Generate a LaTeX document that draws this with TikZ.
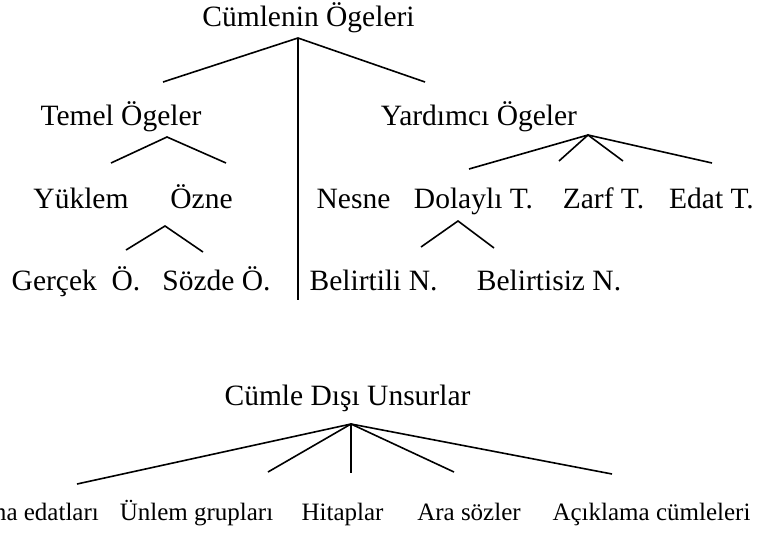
\documentclass[tikz,border=0pt]{standalone}
\usepackage{fontspec}
\setmainfont{Liberation Serif}
\usepackage{tikz}
\usetikzlibrary{positioning}

\begin{document}
\begin{tikzpicture}[
    x=1pt, y=-1pt,
    bigterm/.style={inner sep=0pt, anchor=base, font=\fontsize{29.5}{35}\selectfont},
    smallterm/.style={inner sep=0pt, anchor=base, font=\fontsize{25}{30}\selectfont},
    branch/.style={line width=1.6pt}
]
    \clip (0,0) rectangle (762,533);

    % Top tree: labels
    \node[bigterm] (root) at (308.5,26) {Cümlenin Ögeleri};
    \node[bigterm] (temel) at (121,125) {Temel Ögeler};
    \node[bigterm] (yardimci) at (479,125) {Yardımcı Ögeler};
    \node[bigterm] (yuklem) at (81,208) {Yüklem};
    \node[bigterm] (ozne) at (201.5,208) {Özne};
    \node[bigterm] (gercek) at (76,290) {Gerçek\ \ Ö.};
    \node[bigterm] (sozde) at (216.5,290) {Sözde Ö.};
    \node[bigterm] (nesne) at (353.5,208) {Nesne};
    \node[bigterm] (dolayli) at (473.5,208) {Dolaylı T.};
    \node[bigterm] (zarf) at (603.5,208) {Zarf T.};
    \node[bigterm] (edat) at (711.5,208) {Edat T.};
    \node[bigterm] (belirtili) at (373.5,290) {Belirtili N.};
    \node[bigterm] (belirtisiz) at (549,290) {Belirtisiz N.};

    % Top tree: branch points
    \coordinate (rootTop) at (298,38);
    \coordinate (rootL) at (163,82);
    \coordinate (rootM) at (298,300);
    \coordinate (rootR) at (425,82);
    \coordinate (temelTop) at (167,137);
    \coordinate (temelL) at (111,163);
    \coordinate (temelR) at (226,163);
    \coordinate (ozneTop) at (165,226);
    \coordinate (ozneL) at (126,250);
    \coordinate (ozneR) at (203,252);
    \coordinate (yardTop) at (588,135);
    \coordinate (yardA) at (469,169);
    \coordinate (yardB) at (559,161);
    \coordinate (yardC) at (623,161);
    \coordinate (yardD) at (712,163);
    \coordinate (dolTop) at (458,221);
    \coordinate (dolL) at (421,247);
    \coordinate (dolR) at (494,248);

    \draw[branch] (rootL) -- (rootTop) -- (rootR);
    \draw[branch] (rootTop) -- (rootM);
    \draw[branch] (temelL) -- (temelTop) -- (temelR);
    \draw[branch] (ozneL) -- (ozneTop) -- (ozneR);
    \draw[branch] (yardA) -- (yardTop) -- (yardD);
    \draw[branch] (yardB) -- (yardTop) -- (yardC);
    \draw[branch] (dolL) -- (dolTop) -- (dolR);

    % Bottom tree
    \node[bigterm] (disi) at (347.5,405) {Cümle Dışı Unsurlar};
    \node[smallterm, anchor=base east] (baglama) at (99,520) {Bağlama edatları};
    \node[smallterm] (unlem) at (196.5,520) {Ünlem grupları};
    \node[smallterm] (hitap) at (342.5,520) {Hitaplar};
    \node[smallterm] (ara) at (469,520) {Ara sözler};
    \node[smallterm] (aciklama) at (651.5,520) {Açıklama cümleleri};

    \coordinate (disiTop) at (351,424);
    \coordinate (disiA) at (77,484);
    \coordinate (disiB) at (268,472);
    \coordinate (disiC) at (351,473);
    \coordinate (disiD) at (454,472);
    \coordinate (disiE) at (612,474);

    \draw[branch] (disiA) -- (disiTop) -- (disiE);
    \draw[branch] (disiB) -- (disiTop) -- (disiD);
    \draw[branch] (disiTop) -- (disiC);
\end{tikzpicture}
\end{document}
